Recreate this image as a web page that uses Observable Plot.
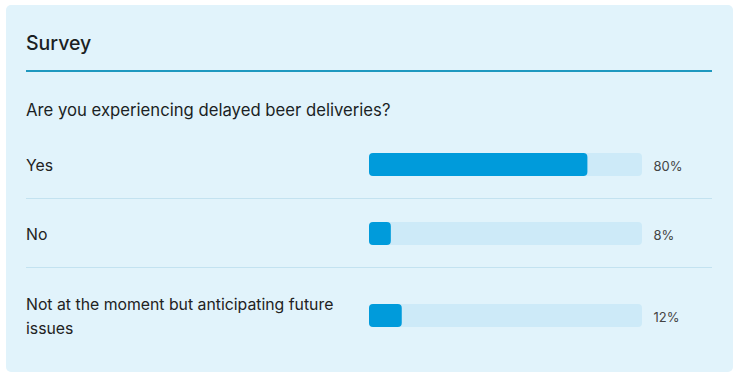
<!DOCTYPE html>
<html><head><meta charset="utf-8">
<script src="https://cdn.jsdelivr.net/npm/d3@7"></script>
<script src="https://cdn.jsdelivr.net/npm/@observablehq/plot@0.6"></script>
<style>
body{margin:0;background:#fff;font-family:Inter,"Noto Sans",sans-serif;}
#card{position:absolute;left:6px;top:5px;width:727px;height:367px;background:#e1f3fb;border-radius:5px;box-sizing:border-box;padding:0 21px 0 20px;}
#title{font-size:19.5px;font-weight:500;color:#1b1f24;padding-top:25px;line-height:26px;padding-bottom:14px;border-bottom:2px solid #1f98bf;}
#question{margin-top:26px;font-size:16.7px;line-height:24px;color:#1b1f24;margin-bottom:8px;}
.row{display:flex;align-items:center;box-sizing:border-box;height:69px;border-bottom:1px solid #c3e2f0;}
.row:last-child{border-bottom:none;height:94px;}
.label{width:343px;flex:none;box-sizing:border-box;padding-right:20px;font-size:15.8px;line-height:24px;color:#222;position:relative;top:2px;}
.row svg{display:block;overflow:visible;}
</style></head>
<body>
<div id="card">
  <div id="title">Survey</div>
  <div id="question">Are you experiencing delayed beer deliveries?</div>
  <div id="rows"></div>
</div>
<script>
const categories = ["Yes", "No", "Not at the moment but anticipating future issues"];
const values = [80, 8, 12];

const rows = document.getElementById("rows");
categories.forEach((cat, i) => {
  const row = document.createElement("div");
  row.className = "row";
  const label = document.createElement("div");
  label.className = "label";
  label.textContent = cat;
  row.appendChild(label);
  const data = [{category: cat, value: values[i]}];
  const chart = Plot.plot({
    width: 333,
    height: 23,
    marginTop: 0, marginBottom: 0, marginLeft: 0, marginRight: 60,
    x: {domain: [0, 100], axis: null},
    style: {background: "transparent", fontFamily: "Inter, sans-serif", overflow: "visible"},
    marks: [
      Plot.barX(data, {x1: 0, x2: 100, fill: "#cdeaf8", rx: 4}),
      Plot.barX(data, {x1: 0, x2: "value", fill: "#009bdb", rx: 4}),
      Plot.text(data, {text: d => d.value + "%", frameAnchor: "right", textAnchor: "start", dx: 11, dy: 2, fontSize: 13, fill: "#444"})
    ]
  });
  row.appendChild(chart);
  rows.appendChild(row);
});
</script>
</body></html>
